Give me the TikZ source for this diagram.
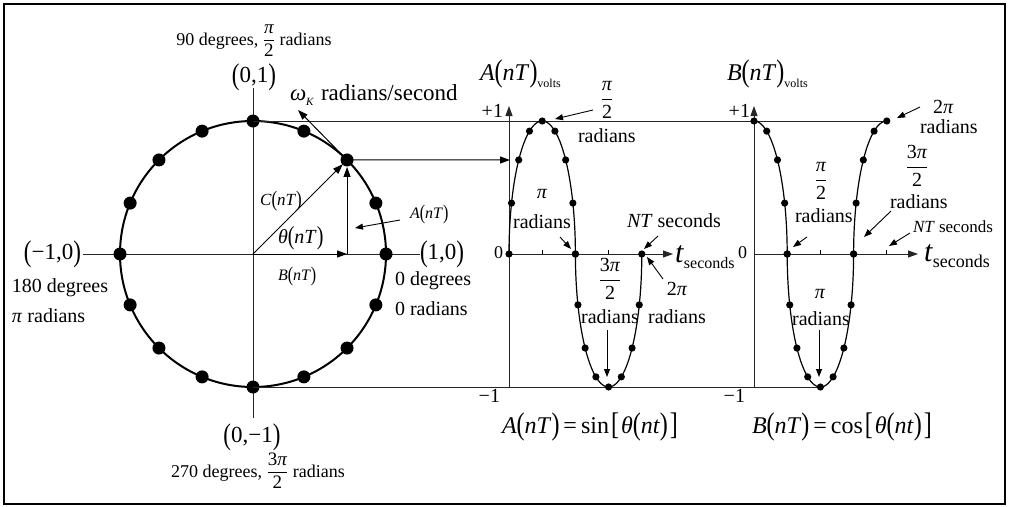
\documentclass[tikz,border=0pt]{standalone}
\usepackage{fontspec}
\setmainfont{Liberation Serif}
\usetikzlibrary{arrows.meta}
\newcommand\lp{\raisebox{-.08em}{\scalebox{1}[1.3]{(}}}
\newcommand\rp{\raisebox{-.08em}{\scalebox{1}[1.3]{)}}}
\newcommand\lb{\raisebox{-.08em}{\scalebox{1}[1.3]{[}}}
\newcommand\rb{\raisebox{-.08em}{\scalebox{1}[1.3]{]}}}
\newcommand\fr[2]{\ensuremath{\displaystyle{\mbox{#1}\above 0.9pt\mbox{#2}}}}
\newcommand\fs[1]{\fontsize{#1}{#1}\selectfont}
\tikzset{
  every node/.style={inner sep=0pt, outer sep=0pt},
  ax/.style={line width=0.9pt, draw=black!85},
  axarr/.style={line width=0.9pt, draw=black!85, -{Triangle[length=10pt,width=7pt]}},
  crv/.style={line width=1.2pt},
  arr/.style={line width=1pt, -{Triangle[length=10pt,width=7pt]}},
  sarr/.style={line width=0.9pt, -{Triangle[length=8pt,width=6pt]}},
  tick/.style={line width=0.9pt},
}
\begin{document}
\begin{tikzpicture}[x=1pt, y=-1pt]
\useasboundingbox (0,0) rectangle (1009,506);
\draw[line width=2pt] (4,4) rectangle (1005,504);

% ---------- circle ----------
\coordinate (O) at (253,254);
\coordinate (vt) at (253,88);
\coordinate (vb) at (253,418);
\coordinate (hl) at (83,254);
\coordinate (hr) at (420,254);
\draw[ax] (vt) -- (vb);
\draw[ax] (hl) -- (hr);
\draw[line width=2pt] (O) circle (133pt);
\foreach \k in {0,...,15} \fill (O) ++({22.5*\k}:133pt) circle (6.5pt);
\path (O) ++(45:133pt) coordinate (P);
\coordinate (Pfoot) at (P |- O);
\coordinate (Ctop) at (253,121);
\coordinate (Cbot) at (253,387);

% connecting lines
\coordinate (Btop) at (886.8,121);
\coordinate (Bbot) at (820.4,387);
\coordinate (Aat) at (510,160);
\draw[ax] (Ctop) -- (Btop);
\draw[ax] (Cbot) -- (Bbot);
\draw[arr] (P) -- (Aat);

% vectors
\draw[arr, shorten >=6pt] (O) -- (P);
\draw[arr, shorten >=7pt] (Pfoot) -- (P);
\draw[arr] (O) -- (Pfoot);
\coordinate (tanend) at (298,110);
\draw[arr] (P) -- (tanend);

% circle labels
\node[anchor=base, font=\fs{18}] (lab90) at (254,45) {90 degrees, {\fs{19}\fr{\textit{π}}{2}} radians};
\node[font=\fs{23}] (p01) at (254,77) {\lp0,1\rp};
\node[anchor=east, font=\fs{23}] (pm10) at (81,254) {\lp−1,0\rp};
\node[anchor=west, font=\fs{23}] (p10) at (420,254) {\lp1,0\rp};
\node[font=\fs{23}] (p0m1) at (252,437) {\lp0,−1\rp};
\node[anchor=base, font=\fs{18}] (lab270) at (258,477) {270 degrees, {\fs{19}\fr{3\textit{π}}{2}} radians};
\node[anchor=base west, font=\fs{20}] (l180) at (12,292) {180 degrees};
\node[anchor=base west, font=\fs{20}] (lpi) at (12,322) {\textit{π} radians};
\node[anchor=base west, font=\fs{20}] (l0d) at (395,285) {0 degrees};
\node[anchor=base west, font=\fs{20}] (l0r) at (395,315) {0 radians};
\node[anchor=base west, font=\fs{23}] (lom) at (290,100) {\textit{ω}\raisebox{-.25em}{\fs{11}\textit{K}}\hspace{7pt}radians/second};
\node[anchor=base west, font=\fs{17}] (lC) at (260,205) {\textit{C}\lp\textit{nT}\rp};
\node[anchor=base west, font=\fs{20}] (lth) at (278,243) {\textit{θ}\lp\textit{nT}\rp};
\node[anchor=base west, font=\fs{16}] (lA) at (410,218) {\textit{A}\lp\textit{nT}\rp};
\node[anchor=base west, font=\fs{16}] (lB) at (278,280) {\textit{B}\lp\textit{nT}\rp};
\draw[sarr] (400,220) coordinate (lAs) -- (355,228) coordinate (lAe);

% ---------- A chart ----------
\coordinate (A0b) at (509,388);
\coordinate (A0t) at (509,106);
\coordinate (A0o) at (509,254);
\coordinate (Atx) at (673,254);
\draw[axarr] (A0b) -- (A0t);
\draw[axarr] (A0o) -- (Atx);
\foreach \xx in {542.2,608.6} \draw[tick] (\xx,254) -- (\xx,249.5);
\draw[crv] plot[domain=0:180, samples=121] ({509+33.2*(1-cos(\x))},{254-133*sin(\x)});
\draw[crv] plot[domain=180:360, samples=121] ({608.6+33.2*cos(\x)},{254-133*sin(\x)});
\foreach \k in {0,...,8} \fill ({509+33.2*(1-cos(22.5*\k))},{254-133*sin(22.5*\k)}) circle (3.6pt);
\foreach \k in {8,...,16} \fill ({608.6+33.2*cos(22.5*\k)},{254-133*sin(22.5*\k)}) circle (3.6pt);

\node[anchor=base west, font=\fs{24}] (Atitle) at (480,80) {\textit{A}\lp\textit{nT}\rp\raisebox{-.3em}{\fs{12}volts}};
\node[anchor=base east, font=\fs{20}] (Ap1) at (503,117) {+1};
\node[anchor=base east, font=\fs{18}] (A0) at (503,258) {0};
\node[anchor=base east, font=\fs{20}] (Am1) at (500,402) {−1};
\node[font=\fs{20}] (Api2) at (607,100) {\fr{\textit{π}}{2}};
\node[anchor=base west, font=\fs{20}] (Arad1) at (578,142) {radians};
\draw[sarr] (593,110) coordinate (a1s) -- (555,119) coordinate (a1e);
\node[anchor=base, font=\fs{20}] (Api) at (542,198) {\textit{π}};
\node[anchor=base, font=\fs{20}] (Arad2) at (542,228) {radians};
\draw[sarr] (560,237) coordinate (a2s) -- (571,249) coordinate (a2e);
\node[anchor=base west, font=\fs{20}] (ANT) at (627,227) {\textit{NT} seconds};
\draw[sarr] (658,236) coordinate (a3s) -- (644,249) coordinate (a3e);
\node[anchor=base west] (At) at (675,262) {{\fs{30}\textit{t}}\raisebox{-6pt}{\fs{16}seconds}};
\node[font=\fs{20}] (A3pi2) at (610,279) {\fr{3\textit{π}}{2}};
\node[anchor=base, font=\fs{20}] (Arad3) at (610,323) {radians};
\draw[sarr] (607,330) coordinate (a4s) -- (607,377) coordinate (a4e);
\node[anchor=base, font=\fs{20}] (A2pi) at (677,295) {2\textit{π}};
\node[anchor=base, font=\fs{20}] (Arad4) at (677,323) {radians};
\draw[sarr] (663,279) coordinate (a5s) -- (647,257) coordinate (a5e);
\node[anchor=base west, font=\fs{24}] (Aeq) at (502,433) {\textit{A}\lp\textit{nT}\rp\hspace{4pt}=\hspace{4pt}sin\hspace{2pt}\lb\hspace{2pt}\textit{θ}\lp\textit{nt}\rp\hspace{2pt}\rb};

% ---------- B chart ----------
\coordinate (B0b) at (754,388);
\coordinate (B0t) at (754,106);
\coordinate (B0o) at (754,254);
\coordinate (Btx) at (918,254);
\draw[axarr] (B0b) -- (B0t);
\draw[axarr] (B0o) -- (Btx);
\foreach \xx in {820.4,886.8} \draw[tick] (\xx,254) -- (\xx,249.5);
\draw[crv] plot[domain=0:90, samples=61] ({754+33.2*sin(\x)},{254-133*cos(\x)});
\draw[crv] plot[domain=90:270, samples=121] ({820.4-33.2*sin(\x)},{254-133*cos(\x)});
\draw[crv] plot[domain=270:360, samples=61] ({886.8+33.2*sin(\x)},{254-133*cos(\x)});
\foreach \k in {0,...,4} \fill ({754+33.2*sin(22.5*\k)},{254-133*cos(22.5*\k)}) circle (3.6pt);
\foreach \k in {4,...,12} \fill ({820.4-33.2*sin(22.5*\k)},{254-133*cos(22.5*\k)}) circle (3.6pt);
\foreach \k in {12,...,16} \fill ({886.8+33.2*sin(22.5*\k)},{254-133*cos(22.5*\k)}) circle (3.6pt);

\node[anchor=base west, font=\fs{24}] (Btitle) at (727,80) {\textit{B}\lp\textit{nT}\rp\raisebox{-.3em}{\fs{12}volts}};
\node[anchor=base east, font=\fs{20}] (Bp1) at (750,117) {+1};
\node[anchor=base east, font=\fs{18}] (B0) at (747,258) {0};
\node[anchor=base east, font=\fs{20}] (Bm1) at (745,402) {−1};
\node[font=\fs{20}] (Bpi2) at (821,181) {\fr{\textit{π}}{2}};
\node[anchor=base west, font=\fs{20}] (Brad1) at (795,222) {radians};
\draw[sarr] (807,237) coordinate (b1s) -- (793,247) coordinate (b1e);
\node[anchor=base west, font=\fs{20}] (B2pi) at (933,113) {2\textit{π}};
\node[anchor=base west, font=\fs{20}] (Brad2) at (920,133) {radians};
\draw[sarr] (920,107) coordinate (b2s) -- (897,118) coordinate (b2e);
\node[font=\fs{20}] (B3pi2) at (917,166) {\fr{3\textit{π}}{2}};
\node[anchor=base west, font=\fs{20}] (Brad3) at (890,208) {radians};
\draw[sarr] (891,211) coordinate (b3s) -- (864,237) coordinate (b3e);
\node[anchor=base west, font=\fs{17}] (BNT) at (913,232) {\textit{NT} seconds};
\draw[sarr] (910,233) coordinate (b4s) -- (889,246) coordinate (b4e);
\node[anchor=base west] (Bt) at (924,261) {{\fs{30}\textit{t}}\raisebox{-6pt}{\fs{18}seconds}};
\node[anchor=base, font=\fs{20}] (Bpi) at (820,298) {\textit{π}};
\node[anchor=base, font=\fs{20}] (Brad4) at (821,325) {radians};
\draw[sarr] (819,330) coordinate (b5s) -- (819,377) coordinate (b5e);
\node[anchor=base west, font=\fs{24}] (Beq) at (752,433) {\textit{B}\lp\textit{nT}\rp\hspace{4pt}=\hspace{4pt}cos\hspace{2pt}\lb\hspace{2pt}\textit{θ}\lp\textit{nt}\rp\hspace{2pt}\rb};
\end{tikzpicture}
\end{document}
